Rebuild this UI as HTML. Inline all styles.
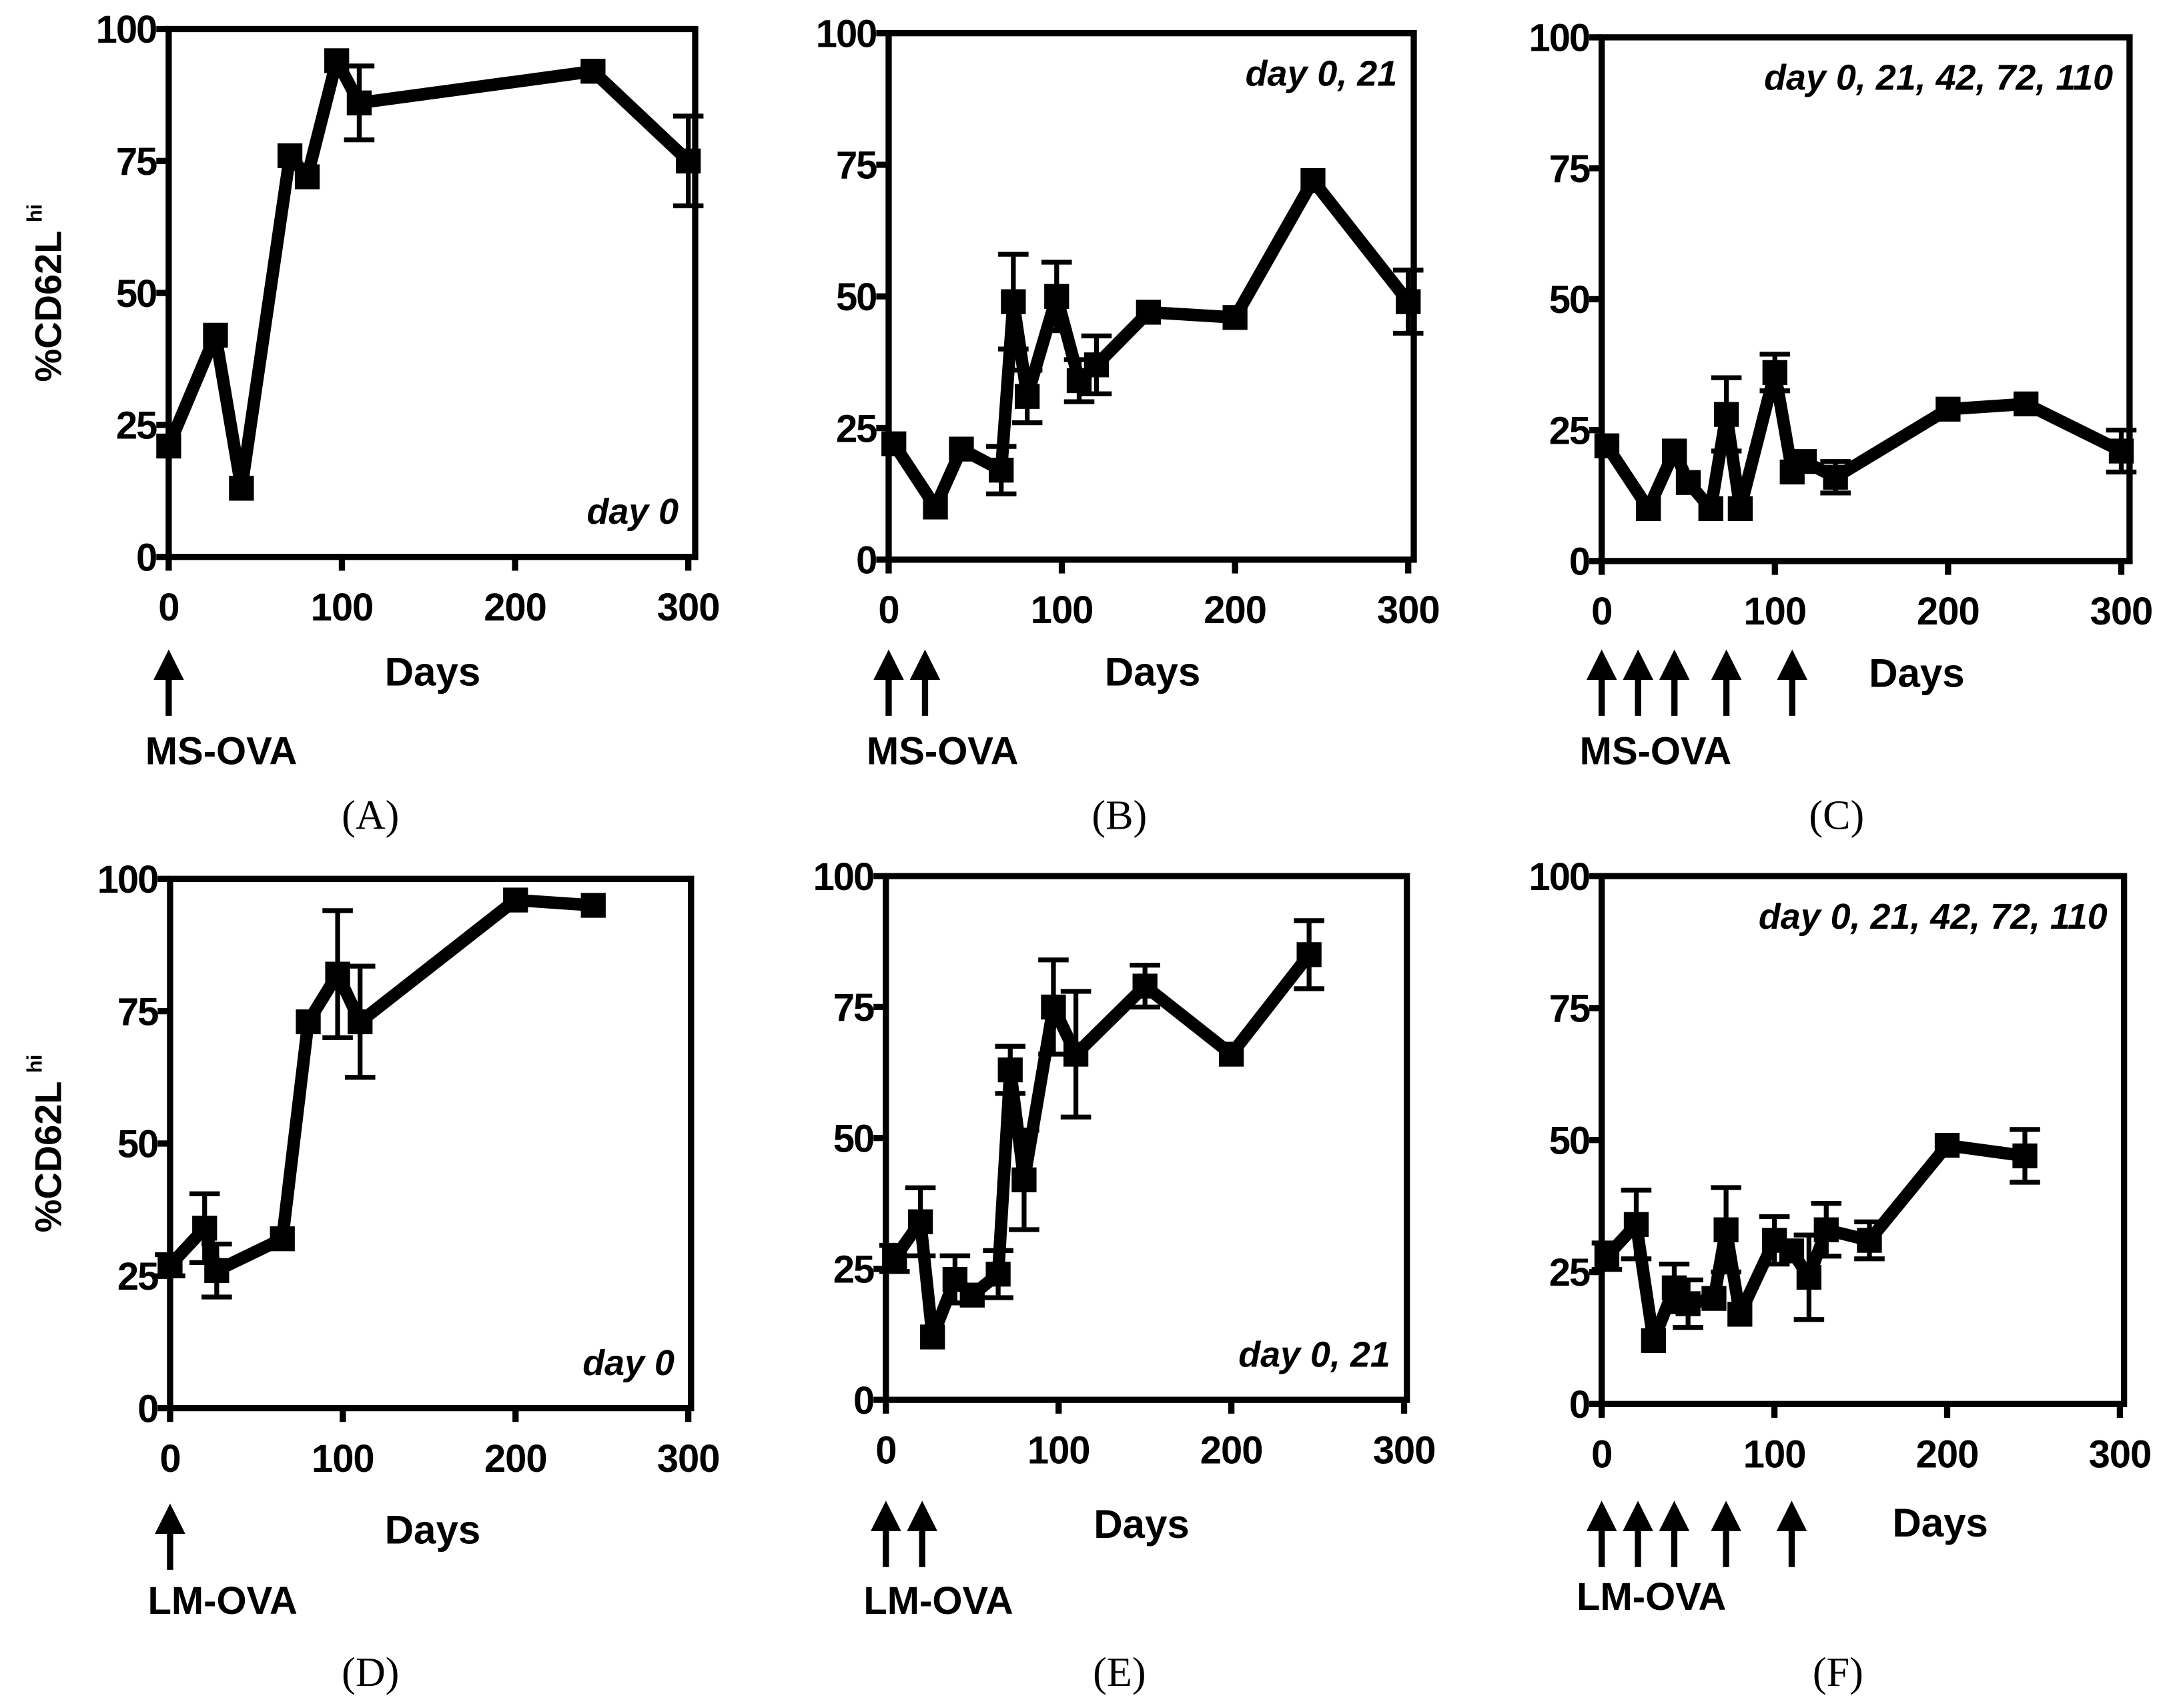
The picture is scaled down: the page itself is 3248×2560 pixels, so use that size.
<!DOCTYPE html>
<html><head><meta charset="utf-8"><style>
html,body{margin:0;padding:0;background:#fff;}
svg{display:block;}
text{font-family:"Liberation Sans",Arial,sans-serif;fill:#000;}
</style></head><body>
<svg id="fig" width="3248" height="2560" viewBox="0 0 1568 1236" xmlns="http://www.w3.org/2000/svg"></svg>
<script>
// ---- Data ----
const daysA=[0,27,42,70,80,97,110,245,300];
const valsA=[21,42,13,76,72,94,86,92,75];
const errA=[0,0,0,0,0,0,7,0,8.5];
const daysB=[3,27,42,65,72,80,97,110,120,150,200,245,300];
const valsB=[22,10,21,17,49,31,50,34,37,47,46,72,49];
const errB=[0,0,0,4.5,9,5,6.5,4,5.5,0,0,0,6];
const daysC=[3,27,42,50,63,72,80,100,110,117,135,200,245,300];
const valsC=[22,10,21,15,10,28,10,36,17,19,16,29,30,21];
const errC=[0,0,0,0,0,7,0,3.5,0,0,3,0,0,4];
const daysD=[0,20,27,65,80,97,110,200,245];
const valsD=[27,34,26,32,73,82,73,96,95];
const errD=[2,6.5,5,0,0,12,10.5,0,0];
const daysE=[5,20,27,40,50,65,72,80,97,110,150,200,245];
const valsE=[27,34,12,23,20,24,63,42,75,66,79,66,85];
const errE=[2.5,6.5,0,4.5,0,4.5,4.5,9.5,9,12,4,0,6.5];
const daysF=[3,20,30,42,50,65,72,80,100,110,120,130,155,200,245];
const valsF=[28,34,12,22,19,20,33,17,31,29,24,33,31,49,47];
const errF=[2.5,6.5,0,4.5,4.5,0,8,0,4.5,0,8,5,3.5,0,5];
const yTicks=[0,25,50,75,100];
const xTicks=[0,100,200,300];
const boostA=[0];
const boostB=[0,21];
const boostC=[0,21,42,72,110];

const NS="http://www.w3.org/2000/svg";
const svg=document.getElementById('fig');
function mk(tag,attrs,parent,txt){const e=document.createElementNS(NS,tag);for(const k in attrs)e.setAttribute(k,attrs[k]);if(txt!==undefined)e.textContent=txt;(parent||svg).appendChild(e);return e;}

const panels=[
 {id:'a',x0:122,x1:498,right:503,y0:403,y100:21,days:daysA,vals:valsA,err:errA,boost:boostA,vac:'MS-OVA',note:'day 0',noteTop:false,letter:'(A)',ylab:true,daysX:313,daysY:496,arrY:470,vacY:553,vacX:160,lx:268,ly:600},
 {id:'b',x0:643,x1:1019,right:1023,y0:405,y100:24,days:daysB,vals:valsB,err:errB,boost:boostB,vac:'MS-OVA',note:'day 0, 21',noteTop:true,letter:'(B)',ylab:false,daysX:834,daysY:496,arrY:470,vacY:553,vacX:682,lx:810,ly:600},
 {id:'c',x0:1159,x1:1535,right:1541,y0:406,y100:27,days:daysC,vals:valsC,err:errC,boost:boostC,vac:'MS-OVA',note:'day 0, 21, 42, 72, 110',noteTop:true,letter:'(C)',ylab:false,daysX:1387,daysY:497,arrY:470,vacY:553,vacX:1198,lx:1329,ly:600},
 {id:'d',x0:123,x1:498,right:500,y0:1019,y100:636,days:daysD,vals:valsD,err:errD,boost:boostA,vac:'LM-OVA',note:'day 0',noteTop:false,letter:'(D)',ylab:true,daysX:313,daysY:1117,arrY:1088,vacY:1168,vacX:161,lx:268,ly:1220},
 {id:'e',x0:641,x1:1016,right:1018,y0:1013,y100:634,days:daysE,vals:valsE,err:errE,boost:boostB,vac:'LM-OVA',note:'day 0, 21',noteTop:false,letter:'(E)',ylab:false,daysX:826,daysY:1113,arrY:1086,vacY:1168,vacX:679,lx:810,ly:1220},
 {id:'f',x0:1159,x1:1534,right:1537,y0:1016,y100:634,days:daysF,vals:valsF,err:errF,boost:boostC,vac:'LM-OVA',note:'day 0, 21, 42, 72, 110',noteTop:true,letter:'(F)',ylab:false,daysX:1404,daysY:1112,arrY:1086,vacY:1165,vacX:1195,lx:1330,ly:1220}
];

panels.forEach(p=>{
  const g=mk('g',{});
  
  
  const X=d=>p.x0+(d/300)*(p.x1-p.x0);
  const Y=v=>p.y0-(v/100)*(p.y0-p.y100);
  const fr=mk('rect',{x:p.x0,y:p.y100,width:p.right-p.x0,height:p.y0-p.y100,fill:'none',stroke:'#000','stroke-width':4.5},g);
  
  
  yTicks.forEach(t=>{
    mk('line',{x1:p.x0-9,x2:p.x0,y1:Y(t),y2:Y(t),stroke:'#000','stroke-width':4.5},g);
    const tl=mk('text',{x:p.x0-9,y:Y(t)+10,'text-anchor':'end','font-size':28,'font-weight':'bold','letter-spacing':'-1'},g,String(t));
    
    
  });
  xTicks.forEach(t=>{
    mk('line',{x1:X(t),x2:X(t),y1:p.y0,y2:p.y0+10,stroke:'#000','stroke-width':4.5},g);
    const tl=mk('text',{x:X(t),y:p.y0+46,'text-anchor':'middle','font-size':28,'font-weight':'bold','letter-spacing':'-0.5'},g,String(t));
    
    
  });
  p.days.forEach((d,i)=>{
    if(p.err[i]>0){
      const cx=X(d),hi=Y(p.vals[i]+p.err[i]),lo=Y(p.vals[i]-p.err[i]);
      const eb=mk('path',{d:`M${cx},${hi}V${lo}M${cx-11},${hi}H${cx+11}M${cx-11},${lo}H${cx+11}`,stroke:'#000','stroke-width':3.5,fill:'none'},g);
      
      
    }
  });
  const pts=p.days.map((d,i)=>X(d)+','+Y(p.vals[i])).join(' ');
  const ln=mk('polyline',{points:pts,fill:'none',stroke:'#000','stroke-width':9,'stroke-linejoin':'round'},g);
  
  
  p.days.forEach((d,i)=>{
    const m=mk('rect',{x:X(d)-9,y:Y(p.vals[i])-9,width:18,height:18,fill:'#000'},g);
    
    
  });
  const nt=mk('text',{x:p.right-12,y:p.noteTop?p.y100+38:p.y0-24,'text-anchor':'end','font-size':26,'font-weight':'bold','font-style':'italic'},g,p.note);
  
  
  const dl=mk('text',{x:p.daysX,y:p.daysY,'text-anchor':'middle','font-size':29,'font-weight':'bold'},g,'Days');
  
  
  p.boost.forEach(b=>{
    const ax=X(b);
    const ar=mk('path',{d:`M${ax},${p.arrY+48}V${p.arrY+14}`,stroke:'#000','stroke-width':4.5},g);
    
    
    mk('polygon',{points:`${ax},${p.arrY} ${ax-11},${p.arrY+22} ${ax+11},${p.arrY+22}`,fill:'#000'},g);
  });
  const vl=mk('text',{x:p.vacX,y:p.vacY,'text-anchor':'middle','font-size':28,'font-weight':'bold'},g,p.vac);
  
  
  const lt=mk('text',{x:p.lx,y:p.ly,'text-anchor':'middle','font-size':30,style:'font-family:"Liberation Serif",serif'},g,p.letter);
  
  
  if(p.ylab){
    const cy=(p.y0+p.y100)/2;
    const yt=mk('text',{x:0,y:0,transform:`translate(44,${cy}) rotate(-90)`,'text-anchor':'middle','font-size':27,'font-weight':'bold'},g);
    
    
    mk('tspan',{},yt,'%CD62L');
    mk('tspan',{'font-size':15,dy:-14,dx:6},yt,'hi');
  }
});
</script>
</body></html>
